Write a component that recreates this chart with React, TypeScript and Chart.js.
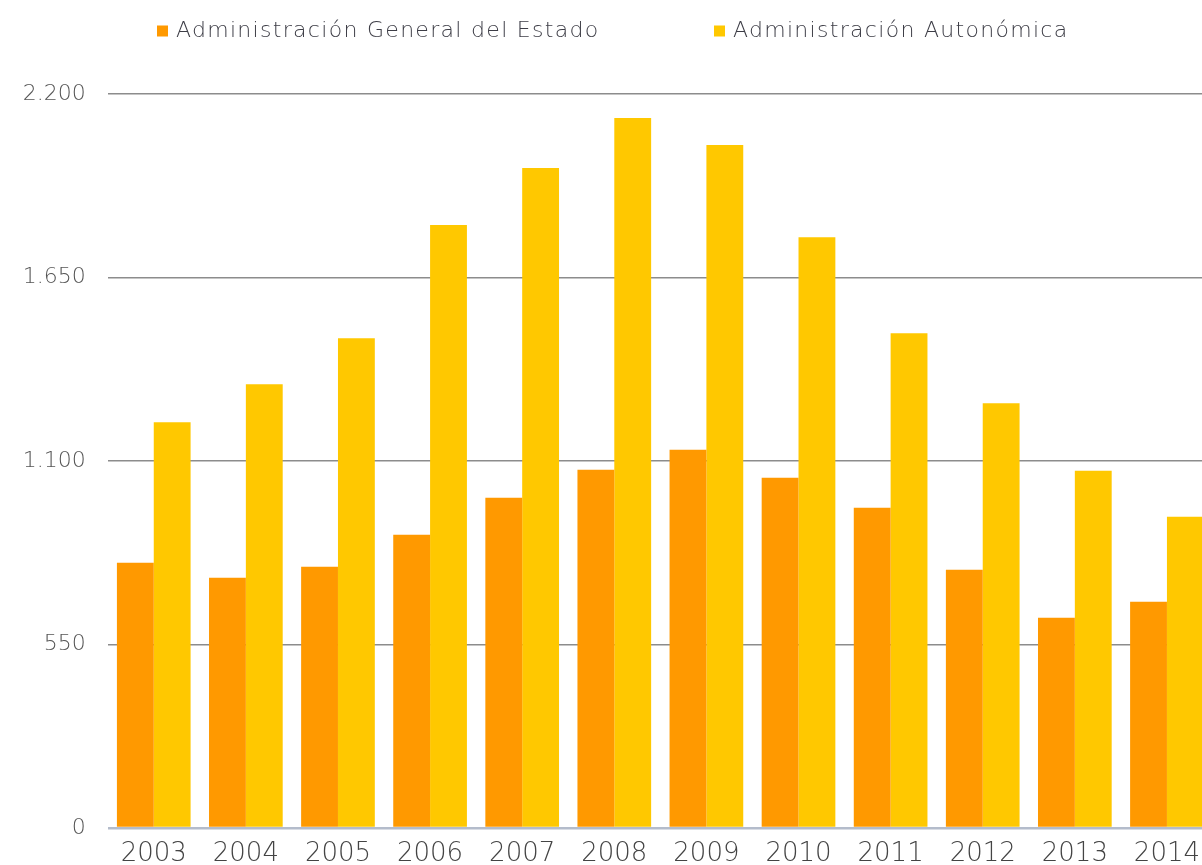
import React, { useEffect, useRef } from "react";
import { Chart, registerables } from "chart.js";

Chart.register(...registerables);

const years = ["2003", "2004", "2005", "2006", "2007", "2008", "2009", "2010", "2011", "2012", "2013", "2014"];
const estadoValues = [795, 750, 783, 879, 990, 1074, 1134, 1050, 960, 774, 630, 678];
const autonomicaValues = [1216, 1330, 1468, 1807, 1978, 2128, 2047, 1771, 1483, 1273, 1071, 933];
const yTicks = [0, 550, 1100, 1650, 2200];
const seriesLabels = ["Administración General del Estado", "Administración Autonómica"];
const seriesColors = ["#FF9900", "#FFC800"];

const FONT = "'DejaVu Sans', 'Open Sans', sans-serif";

const legendPlugin = {
  id: "customLegend",
  afterDraw(chart: any) {
    const ctx = chart.ctx;
    const xs = [157, 714];
    const y = 31;
    ctx.save();
    ctx.font = `300 22px ${FONT}`;
    try {
      (ctx as any).letterSpacing = "1.3px";
    } catch (e) {}
    ctx.textBaseline = "middle";
    ctx.textAlign = "left";
    chart.data.datasets.forEach((ds: any, i: number) => {
      ctx.fillStyle = ds.backgroundColor;
      ctx.fillRect(xs[i], y - 5.5, 11, 11);
      ctx.fillStyle = "#3d3d46";
      ctx.fillText(ds.label, xs[i] + 19, y);
    });
    ctx.restore();
  },
};

export default function App() {
  const ref = useRef<HTMLCanvasElement | null>(null);

  useEffect(() => {
    if (!ref.current) return;
    const chart = new Chart(ref.current, {
      type: "bar",
      data: {
        labels: years,
        datasets: [
          { label: seriesLabels[0], data: estadoValues, backgroundColor: seriesColors[0], borderWidth: 0 },
          { label: seriesLabels[1], data: autonomicaValues, backgroundColor: seriesColors[1], borderWidth: 0 },
        ],
      },
      options: {
        animation: false,
        responsive: true,
        maintainAspectRatio: false,
        layout: { padding: { left: 7.7, right: 0, top: 94, bottom: 0 } },
        datasets: { bar: { categoryPercentage: 0.8, barPercentage: 1.0 } },
        plugins: {
          legend: { display: false },
          tooltip: { enabled: false },
        },
        scales: {
          x: {
            grid: { display: false },
            border: { display: false },
            ticks: {
              color: "#444",
              font: { family: FONT, size: 26, weight: 300 },
              padding: 3,
              maxRotation: 0,
            },
            afterFit: (scale: any) => {
              scale.height = 865 - 828;
            },
          },
          y: {
            min: 0,
            max: 2200,
            afterBuildTicks: (scale: any) => {
              scale.ticks = yTicks.map((v) => ({ value: v }));
            },
            afterFit: (scale: any) => {
              scale.width = 100;
            },
            grid: {
              drawTicks: false,
              color: (c: any) => (c.tick && c.tick.value === 0 ? "#b4bccb" : "#8c8c8c"),
              lineWidth: (c: any) => (c.tick && c.tick.value === 0 ? 2.5 : 1.5),
            },
            border: { display: false },
            ticks: {
              color: "#555",
              font: { family: FONT, size: 22, weight: 300 },
              padding: 22,
              callback: (v: any) => Number(v).toLocaleString("de-DE"),
            },
          },
        },
      },
      plugins: [legendPlugin],
    });
    return () => chart.destroy();
  }, []);

  return (
    <div style={{ position: "fixed", left: 0, top: 0, width: "100vw", height: "100vh", overflow: "hidden", background: "#fff" }}>
      <div style={{ position: "absolute", left: 0, top: 0, width: 1213, height: 865 }}>
        <canvas ref={ref} />
      </div>
    </div>
  );
}
